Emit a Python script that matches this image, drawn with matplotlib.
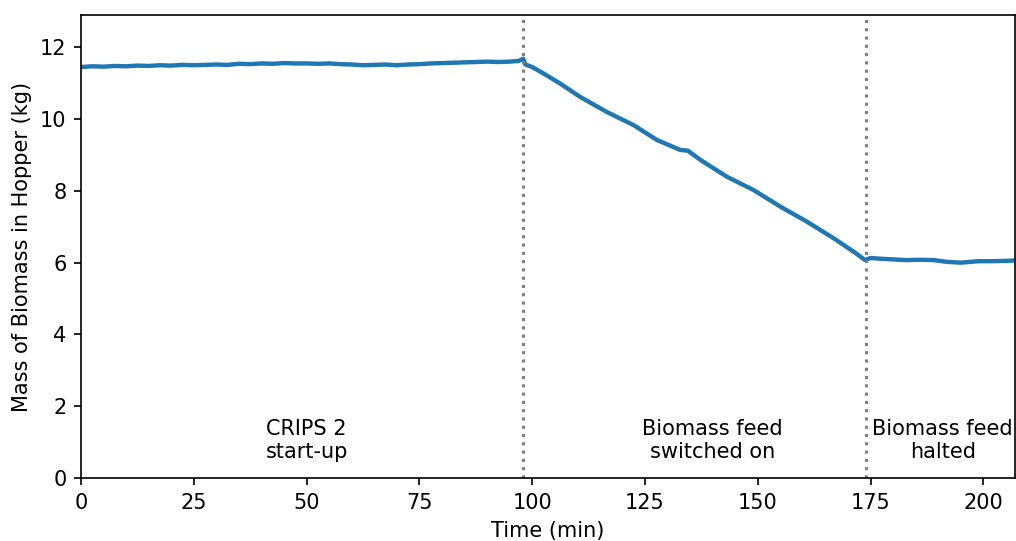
import numpy as np
import matplotlib
matplotlib.use("Agg")
import matplotlib.pyplot as plt

# hopper mass readings (min, kg)
time_min = [0, 2.5, 5, 7.5, 10, 12.5, 15, 17.5, 20, 22.5, 25, 27.5, 30, 32.5,
            35, 37.5, 40, 42.5, 45, 47.5, 50, 52.5, 55, 57.5, 60, 62.5, 65,
            67.5, 70, 72.5, 75, 77.5, 80, 82.5, 85, 87.5, 90, 92.5, 95, 97,
            98, 98.5, 100, 102.5, 106.2, 110.6, 116.5, 122.5, 127.6, 132.8,
            134.5, 137.3, 143.2, 149.1, 155, 160.9, 166.8, 171.3, 173.8,
            175, 177, 180, 183, 186, 189, 192, 195, 197, 199, 202, 205, 207]
mass_kg = [11.45, 11.47, 11.46, 11.48, 11.47, 11.49, 11.48, 11.50, 11.49, 11.51,
           11.50, 11.51, 11.52, 11.51, 11.54, 11.53, 11.55, 11.54, 11.56, 11.55,
           11.55, 11.54, 11.55, 11.53, 11.52, 11.50, 11.51, 11.52, 11.50, 11.52,
           11.53, 11.55, 11.56, 11.57, 11.58, 11.59, 11.60, 11.59, 11.60, 11.62,
           11.68, 11.52, 11.45, 11.27, 10.99, 10.62, 10.20, 9.83, 9.42, 9.14,
           9.12, 8.86, 8.39, 8.02, 7.56, 7.14, 6.68, 6.30, 6.07,
           6.13, 6.11, 6.09, 6.07, 6.08, 6.07, 6.02, 6.00, 6.02, 6.04, 6.04,
           6.05, 6.06]

events = [98, 174]
phase_x = [50, 140, 191]
phase_labels = ["CRIPS 2\nstart-up", "Biomass feed\nswitched on", "Biomass feed\nhalted"]

plt.rcParams['font.size'] = 10
fig = plt.figure(figsize=(1016 / 150, 541 / 150), dpi=150)
ax = fig.add_axes([0.0797, 0.1165, 0.9193, 0.8558])

ax.plot(time_min, mass_kg, color='#1f77b4', linewidth=2.1)
for ev in events:
    ax.axvline(ev, color='gray', linestyle=':', linewidth=1.5)
for px, lab in zip(phase_x, phase_labels):
    ax.text(px, 1.05, lab, ha='center', va='center')

ax.set_xlim(0, 207)
ax.set_ylim(0, 12.9)
ax.set_xticks([0, 25, 50, 75, 100, 125, 150, 175, 200])
ax.set_yticks([0, 2, 4, 6, 8, 10, 12])
ax.set_xlabel('Time (min)')
ax.set_ylabel('Mass of Biomass in Hopper (kg)')

fig.savefig('out.png', dpi=150)
